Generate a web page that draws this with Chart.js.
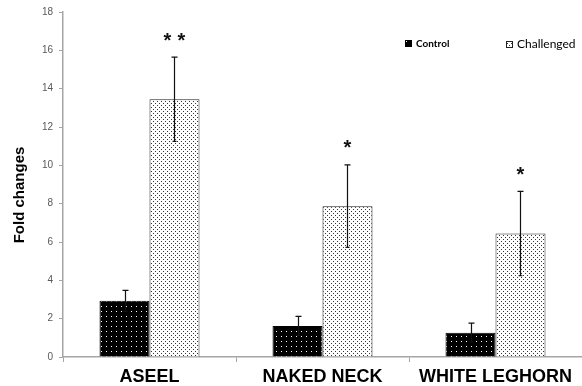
<!DOCTYPE html>
<html>
<head>
<meta charset="utf-8">
<script src="https://cdn.jsdelivr.net/npm/chart.js@4/dist/chart.umd.min.js"></script>
<style>
html,body{margin:0;padding:0;background:#fff;}
#wrap{width:582px;height:386px;position:relative;}
</style>
</head>
<body>
<div id="wrap"><canvas id="c" width="582" height="386"></canvas></div>
<script>
const categories = ['ASEEL', 'NAKED NECK', 'WHITE LEGHORN'];
const seriesNames = ['Control', 'Challenged'];
const controlValues = [2.93, 1.62, 1.27];
const challengedValues = [13.45, 7.87, 6.44];
const controlErrors = [0.55, 0.5, 0.5];
const challengedErrors = [2.2, 2.15, 2.2];
const significance = ['**', '*', '*'];
const yTicks = [0, 2, 4, 6, 8, 10, 12, 14, 16, 18];
const yTitle = 'Fold changes';

function makePattern(bg, dot, step, checker) {
  const p = document.createElement('canvas');
  p.width = step; p.height = step;
  const g = p.getContext('2d');
  g.fillStyle = bg; g.fillRect(0, 0, step, step);
  g.fillStyle = dot;
  g.fillRect(1, 1, 1, 1);
  if (checker) g.fillRect(1 + step / 2, 1 + step / 2, 1, 1);
  return document.getElementById('c').getContext('2d').createPattern(p, 'repeat');
}
const controlFill = makePattern('#000000', '#ffffff', 5, false);
const challengedFill = makePattern('#ffffff', '#333333', 4, true);

const errorBars = {
  id: 'errorBars',
  afterDatasetsDraw(chart) {
    const ctx = chart.ctx;
    const y = chart.scales.y;
    const errs = [controlErrors, challengedErrors];
    ctx.save();
    ctx.strokeStyle = '#111';
    ctx.lineWidth = 1.2;
    chart.data.datasets.forEach((ds, di) => {
      const meta = chart.getDatasetMeta(di);
      meta.data.forEach((el, i) => {
        const v = ds.data[i], e = errs[di][i];
        const x = Math.round(el.x) + 0.5;
        const yt = y.getPixelForValue(v + e), yb = y.getPixelForValue(v - e);
        ctx.beginPath();
        ctx.moveTo(x, yt); ctx.lineTo(x, yb);
        ctx.moveTo(x - 3, yt); ctx.lineTo(x + 3, yt);
        ctx.moveTo(x - 2, yb); ctx.lineTo(x + 2, yb);
        ctx.stroke();
        if (di === 1) {
          ctx.fillStyle = '#111';
          ctx.font = 'bold 20px Arial, "Liberation Sans"';
          ctx.textAlign = 'center';
          ctx.textBaseline = 'middle';
          const chars = significance[i].split('');
          const gap = 14;
          chars.forEach((ch, k) => {
            const cx = x + (k - (chars.length - 1) / 2) * gap;
            ctx.fillText(ch, cx, yt - 16);
          });
        }
      });
    });
    ctx.restore();
  }
};

const extras = {
  id: 'extras',
  afterDraw(chart) {
    const ctx = chart.ctx;
    ctx.save();
    ctx.translate(20, 195);
    ctx.rotate(-Math.PI / 2);
    ctx.fillStyle = '#000';
    ctx.font = 'bold 15px Arial, "Liberation Sans"';
    ctx.textAlign = 'center';
    ctx.textBaseline = 'middle';
    ctx.fillText(yTitle, 0, 0);
    ctx.restore();
    ctx.save();
    const items = [
      [405, 40, seriesNames[0], controlFill, '#000', 'bold 10px Lato, "Open Sans", Arial', 43.5],
      [506, 41, seriesNames[1], challengedFill, '#222', '12px Lato, "Open Sans", Arial', 44.5]
    ];
    items.forEach(([lx, ly, txt, fill, bc, font, ty]) => {
      ctx.fillStyle = fill;
      ctx.fillRect(lx, ly, 7, 7);
      ctx.strokeStyle = bc; ctx.lineWidth = 1;
      ctx.strokeRect(lx + 0.5, ly + 0.5, 6, 6);
      ctx.fillStyle = '#000';
      ctx.font = font;
      ctx.textAlign = 'left';
      ctx.textBaseline = 'middle';
      ctx.fillText(txt, lx + 11, ty);
    });
    ctx.restore();
  }
};

new Chart(document.getElementById('c'), {
  type: 'bar',
  data: {
    labels: categories,
    datasets: [
      { label: seriesNames[0], data: controlValues, backgroundColor: controlFill, borderColor: '#000', borderWidth: 1 },
      { label: seriesNames[1], data: challengedValues, backgroundColor: challengedFill, borderColor: '#222', borderWidth: 1 }
    ]
  },
  options: {
    responsive: false,
    animation: false,
    devicePixelRatio: 1,
    layout: { padding: { top: 11, right: 0, left: 0, bottom: 0 } },
    categoryPercentage: 0.578,
    barPercentage: 1,
    plugins: { legend: { display: false }, tooltip: { enabled: false } },
    scales: {
      x: {
        grid: { display: true, drawOnChartArea: false, offset: true, tickLength: 5, color: '#a6a6a6' },
        border: { color: '#a6a6a6', width: 1.5 },
        ticks: { color: '#000', font: { family: 'Arial, "Liberation Sans"', size: 18, weight: 'bold' }, padding: 4, maxRotation: 0, autoSkip: false },
        afterFit(s) { s.height = 29; }
      },
      y: {
        min: 0, max: 18,
        afterBuildTicks(s) { s.ticks = yTicks.map(v => ({ value: v })); },
        grid: { display: true, drawOnChartArea: false, tickLength: 4, color: '#a6a6a6' },
        border: { color: '#a6a6a6', width: 1.5 },
        ticks: { color: '#595959', font: { family: 'Arial, "Liberation Sans"', size: 10 }, padding: 6 },
        afterFit(s) { s.width = 63; }
      }
    }
  },
  plugins: [errorBars, extras]
});
</script>
</body>
</html>
